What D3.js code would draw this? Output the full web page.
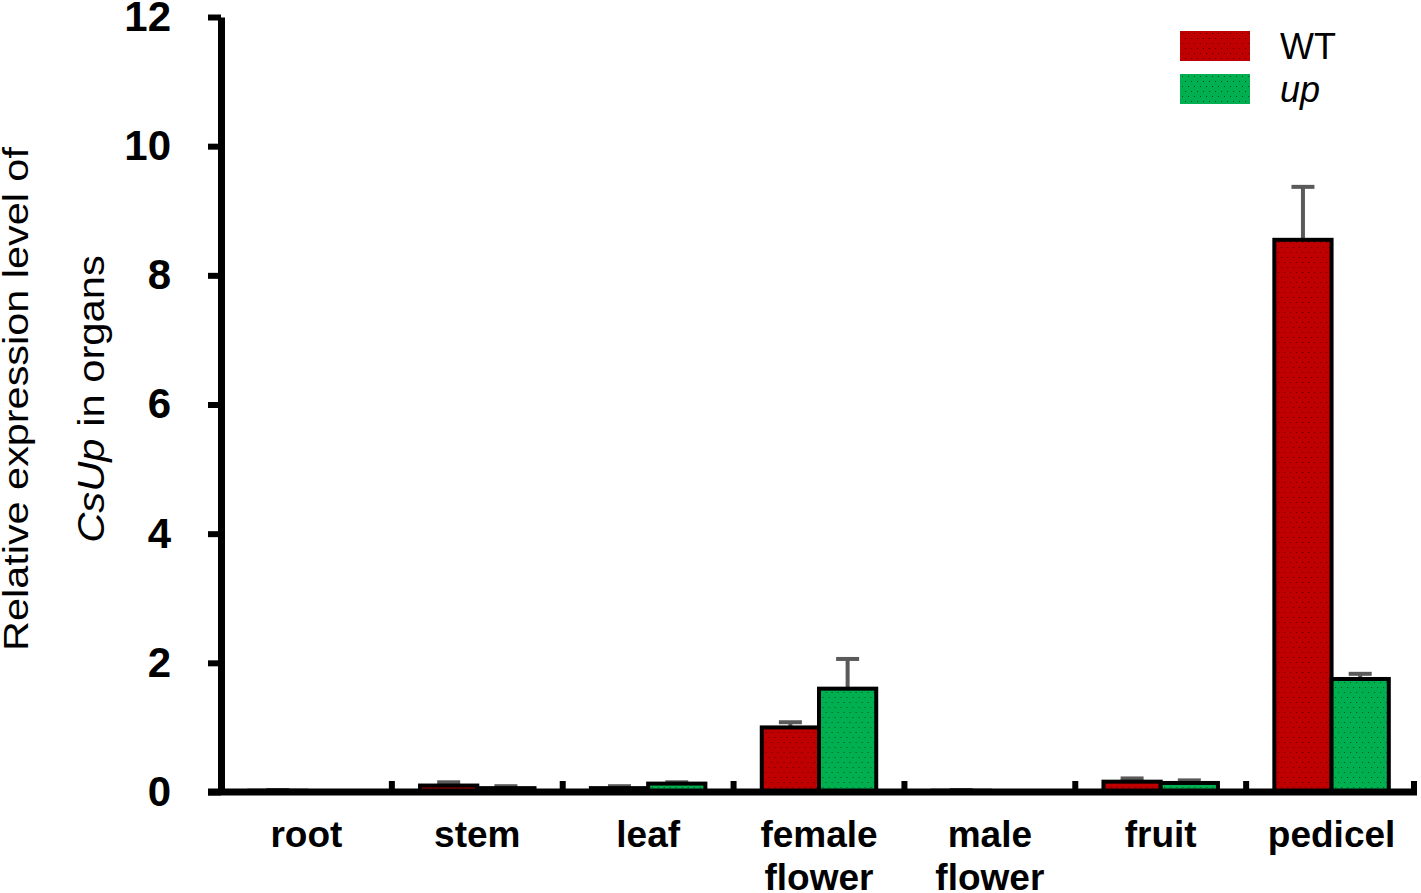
<!DOCTYPE html>
<html>
<head>
<meta charset="utf-8">
<script src="https://cdn.jsdelivr.net/npm/d3@7/dist/d3.min.js"></script>
<style>
  body { margin: 0; background: #fff; }
  svg { display: block; }
  .tick text { font-family: "Liberation Sans", Arial, sans-serif; }
</style>
</head>
<body>
<svg id="chart" width="1421" height="893"></svg>
<script>
// data
var categories = ['root', 'stem', 'leaf', 'female flower', 'male flower', 'fruit', 'pedicel'];
var seriesNames = ['WT', 'up'];
var wtValues = [0.02, 0.10, 0.06, 1.00, 0.02, 0.16, 8.55];
var wtErrors = [0.01, 0.05, 0.03, 0.08, 0.01, 0.05, 0.82];
var upValues = [0.005, 0.06, 0.13, 1.60, 0.005, 0.14, 1.75];
var upErrors = [0.005, 0.03, 0.02, 0.46, 0.005, 0.04, 0.08];
var yTicks = [0, 2, 4, 6, 8, 10, 12];
var colors = {'WT': '#c00000', 'up': '#00b050'};

var svg = d3.select('#chart');
var plotLeft = 221, plotRight = 1417, plotTop = 17, plotBottom = 792;

var x = d3.scaleBand().domain(categories).range([plotLeft, plotRight]).padding(0);
var xs = d3.scaleBand().domain(seriesNames)
    .range([x.bandwidth() * 0.165, x.bandwidth() * 0.835]).padding(0);
var y = d3.scaleLinear().domain([0, 12]).range([plotBottom, plotTop]);

// dotted fill patterns
var defs = svg.append('defs');
seriesNames.forEach(function(s) {
    var p = defs.append('pattern')
        .attr('id', 'pat-' + s)
        .attr('patternUnits', 'userSpaceOnUse')
        .attr('width', 12).attr('height', 10);
    p.append('rect').attr('width', 12).attr('height', 10).attr('fill', colors[s]);
    [[2, 2], [8, 2], [5, 7], [11, 7]].forEach(function(d) {
        p.append('rect').attr('x', d[0]).attr('y', d[1])
            .attr('width', 1).attr('height', 1)
            .attr('fill', '#000').attr('opacity', 0.55);
    });
});

var rows = categories.map(function(c, i) {
    return {cat: c, vals: [
        {s: 'WT', v: wtValues[i], e: wtErrors[i]},
        {s: 'up', v: upValues[i], e: upErrors[i]}
    ]};
});

var groups = svg.append('g').selectAll('g.grp')
    .data(rows).enter().append('g')
    .attr('class', 'grp')
    .attr('transform', function(d) { return 'translate(' + x(d.cat) + ',0)'; });

// error bars (drawn first, bars cover the base)
groups.selectAll('g.err').data(function(d) { return d.vals; }).enter()
    .append('g').attr('class', 'err')
    .each(function(d) {
        var g = d3.select(this);
        var cx = xs(d.s) + xs.bandwidth() / 2;
        g.append('line')
            .attr('x1', cx).attr('x2', cx)
            .attr('y1', y(d.v)).attr('y2', y(d.v + d.e))
            .attr('stroke', '#5a5a5a').attr('stroke-width', 4);
        g.append('line')
            .attr('x1', cx - 11.5).attr('x2', cx + 11.5)
            .attr('y1', y(d.v + d.e)).attr('y2', y(d.v + d.e))
            .attr('stroke', '#5a5a5a').attr('stroke-width', 4);
    });

groups.selectAll('rect.bar').data(function(d) { return d.vals; }).enter()
    .append('rect').attr('class', 'bar')
    .attr('x', function(d) { return xs(d.s); })
    .attr('width', xs.bandwidth())
    .attr('y', function(d) { return y(d.v); })
    .attr('height', function(d) { return y(0) - y(d.v); })
    .attr('fill', function(d) { return 'url(#pat-' + d.s + ')'; })
    .attr('stroke', '#000').attr('stroke-width', 4);

// y axis
var yAxis = svg.append('g')
    .attr('transform', 'translate(' + plotLeft + ',0)')
    .call(d3.axisLeft(y).tickValues(yTicks).tickSize(13).tickPadding(37).tickSizeOuter(0));
yAxis.select('.domain').attr('stroke', '#000').attr('stroke-width', 7);
yAxis.selectAll('.tick line').attr('stroke', '#000').attr('stroke-width', 6);
yAxis.selectAll('.tick text')
    .attr('font-size', 42).attr('font-weight', 'bold').attr('fill', '#000');

// x axis: ticks at category boundaries pointing up
var xAxis = svg.append('g')
    .attr('transform', 'translate(0,' + plotBottom + ')');
xAxis.append('line')
    .attr('x1', plotLeft - 13).attr('x2', plotRight)
    .attr('stroke', '#000').attr('stroke-width', 7);
xAxis.selectAll('line.bt').data(categories.slice(1).concat(['end'])).enter()
    .append('line').attr('class', 'bt')
    .attr('x1', function(d) { return d === 'end' ? plotRight - 3 : x(d); })
    .attr('x2', function(d) { return d === 'end' ? plotRight - 3 : x(d); })
    .attr('y1', 0).attr('y2', -11)
    .attr('stroke', '#000').attr('stroke-width', 6);

xAxis.selectAll('text.cat').data(categories).enter()
    .append('text').attr('class', 'cat')
    .attr('text-anchor', 'middle')
    .attr('font-family', '"Liberation Sans", Arial, sans-serif')
    .attr('font-weight', 'bold').attr('font-size', 37)
    .attr('transform', function(d) { return 'translate(' + (x(d) + x.bandwidth() / 2) + ',0)'; })
    .each(function(d) {
        var t = d3.select(this);
        d.split(' ').forEach(function(w, i) {
            t.append('tspan').attr('x', 0).attr('y', 55 + i * 43).text(w);
        });
    });

// y axis title (text in the figure is stretched along its length)
svg.append('text')
    .attr('transform', 'translate(28,399) rotate(-90) scale(1.15,1)')
    .attr('text-anchor', 'middle')
    .attr('font-family', '"Liberation Sans", Arial, sans-serif')
    .attr('font-size', 36)
    .text('Relative expression level of');
var title2 = svg.append('text')
    .attr('transform', 'translate(104,399) rotate(-90) scale(1.16,1)')
    .attr('text-anchor', 'middle')
    .attr('font-family', '"Liberation Sans", Arial, sans-serif')
    .attr('font-size', 36);
title2.append('tspan').attr('font-style', 'italic').text('CsUp');
title2.append('tspan').text(' in organs');

// legend
var legItems = svg.append('g').selectAll('g').data(seriesNames).enter().append('g')
    .attr('transform', function(d, i) { return 'translate(1180,' + (31 + i * 43) + ')'; });
legItems.append('rect')
    .attr('width', 70).attr('height', 30)
    .attr('fill', function(d) { return 'url(#pat-' + d + ')'; });
legItems.append('text')
    .attr('x', 100).attr('y', 28)
    .attr('font-family', '"Liberation Sans", Arial, sans-serif')
    .attr('font-size', 36)
    .attr('font-style', function(d) { return d === 'up' ? 'italic' : 'normal'; })
    .text(function(d) { return d; });
</script>
</body>
</html>
